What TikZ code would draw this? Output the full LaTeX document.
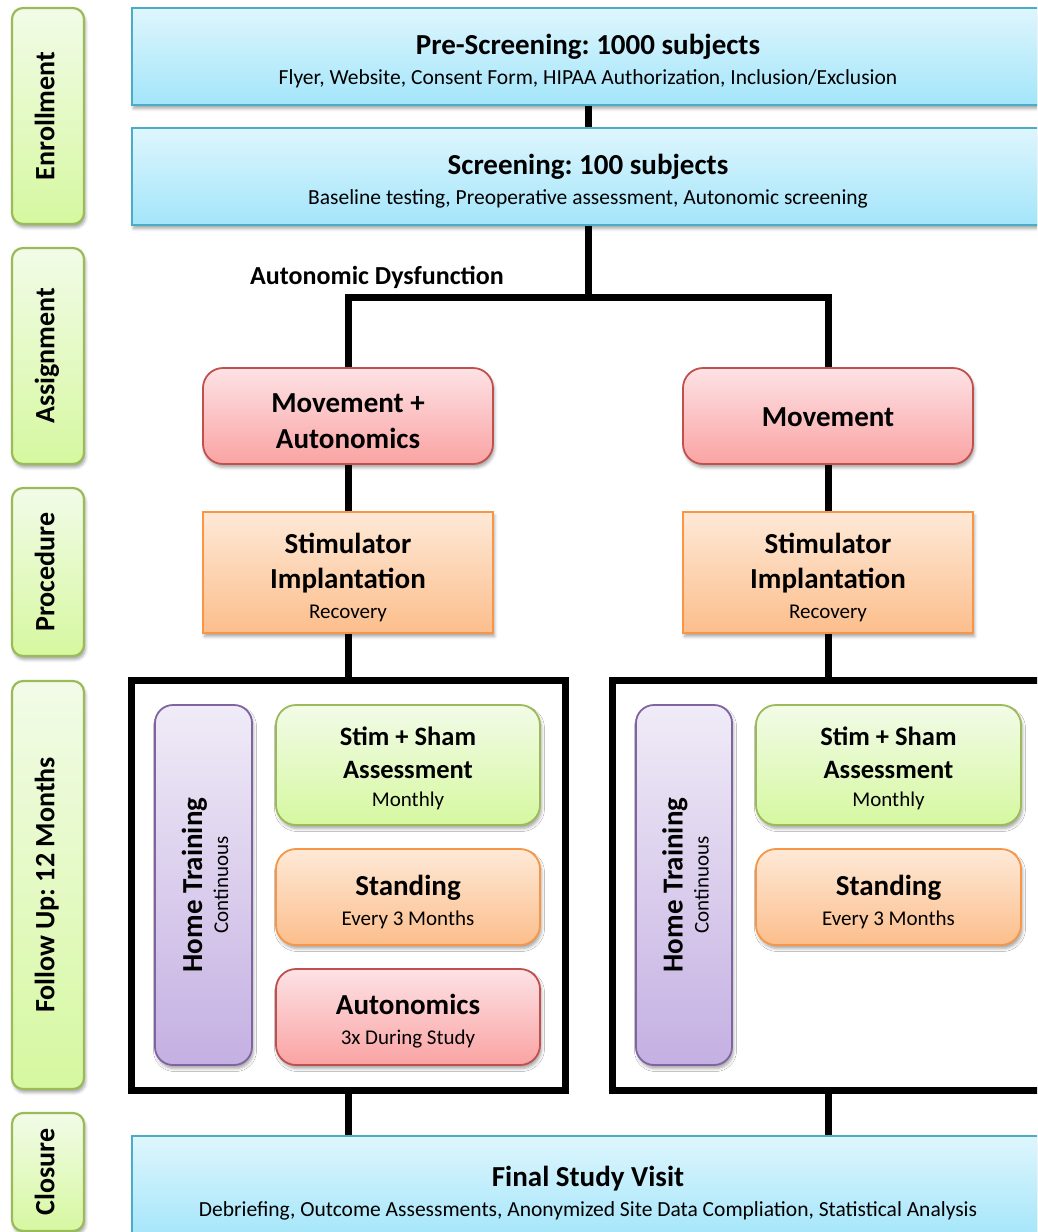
\documentclass[tikz,border=0pt]{standalone}
\usepackage{fontspec}
\setmainfont{Carlito}
\usepackage{graphicx}
\usetikzlibrary{backgrounds,shadows.blur}
\frenchspacing

\definecolor{blueTop}{RGB}{222,246,253}
\definecolor{blueBot}{RGB}{163,229,250}
\definecolor{blueBd}{RGB}{75,172,198}
\definecolor{redTop}{RGB}{253,226,229}
\definecolor{redBot}{RGB}{250,163,163}
\definecolor{redBd}{RGB}{192,80,77}
\definecolor{orTop}{RGB}{254,233,215}
\definecolor{orBot}{RGB}{252,190,140}
\definecolor{orBd}{RGB}{247,150,70}
\definecolor{grTop}{RGB}{242,251,232}
\definecolor{grBot}{RGB}{214,248,160}
\definecolor{grBd}{RGB}{155,187,89}
\definecolor{puTop}{RGB}{240,235,247}
\definecolor{puBot}{RGB}{196,176,226}
\definecolor{puBd}{RGB}{128,100,162}

\newcommand{\mytitle}{\fontsize{29}{35}\selectfont\bfseries}
\newcommand{\mytitlesm}{\fontsize{26.5}{32}\selectfont\bfseries}
\newcommand{\mysub}{\fontsize{21}{26}\selectfont\mdseries}
\newcommand{\mysubl}{\fontsize{21.5}{26}\selectfont\mdseries}
\newcommand{\tp}[1]{\rule{0pt}{#1}}
\newcommand{\mydeep}{\rule[-7pt]{0pt}{7pt}}

\tikzset{
  base/.style={inner sep=0pt, outer sep=0pt, align=center, line width=1.8pt, text=black,
    blur shadow={shadow xshift=1.5pt, shadow yshift=-3.5pt, shadow blur radius=3pt, shadow opacity=35}},
  lab/.style={base, draw=grBd, line width=2.2pt, top color=grTop, bottom color=grBot,
    rounded corners=11pt, minimum width=72pt, font=\fontsize{28}{34}\selectfont\bfseries},
  bluebox/.style={base, draw=blueBd, top color=blueTop, bottom color=blueBot,
    minimum width=912pt, font=\fontsize{21}{30}\selectfont},
  redbox/.style={base, draw=redBd, top color=redTop, bottom color=redBot,
    rounded corners=20pt, font=\fontsize{29}{36}\selectfont\bfseries},
  orbox/.style={base, draw=orBd, top color=orTop, bottom color=orBot,
    font=\fontsize{21}{30}\selectfont},
  orround/.style={orbox, rounded corners=20pt},
  grbox/.style={base, draw=grBd, top color=grTop, bottom color=grBot,
    rounded corners=20pt, font=\fontsize{21}{28}\selectfont},
  pubox/.style={base, draw=puBd, top color=puTop, bottom color=puBot,
    rounded corners=18pt, font=\fontsize{21}{26}\selectfont},
  bigbox/.style={draw=black, line width=7pt, fill=white, inner sep=0pt, outer sep=0pt},
  conn/.style={draw=black, line width=7pt}
}

\begin{document}
\begin{tikzpicture}[x=1pt,y=-1pt]
\useasboundingbox (0,0) rectangle (1037,1232);
\clip (0,0) rectangle (1037,1232);

% phase labels
\node[lab, minimum height=216pt] (enr) at (48,116) {\rotatebox{90}{\mydeep Enrollment}};
\node[lab, minimum height=216pt] (asg) at (48,356) {\rotatebox{90}{\mydeep Assignment}};
\node[lab, minimum height=168pt] (prc) at (48,572) {\rotatebox{90}{\mydeep Procedure}};
\node[lab, minimum height=408pt] (fol) at (48,885) {\rotatebox{90}{\mydeep Follow Up: 12 Months}};
\node[lab, minimum height=118pt] (clo) at (48,1172) {\rotatebox{90}{\mydeep Closure}};

% enrollment
\node[bluebox, minimum height=97pt] (pre) at (588,56.5)
  {{\tp{30pt}\mytitle Pre-Screening: 1000 subjects}\\{\mysubl Flyer, Website, Consent Form, HIPAA Authorization, Inclusion/Exclusion}};
\node[bluebox, minimum height=97pt] (scr) at (588,176.5)
  {{\tp{30pt}\mytitle Screening: 100 subjects}\\{\mysubl Baseline testing, Preoperative assessment, Autonomic screening}};

\node[font=\fontsize{26}{30}\selectfont\bfseries, inner sep=0pt] (ad) at (377,277) {Autonomic Dysfunction};
\coordinate (j) at (588,297);

% assignment
\node[redbox, minimum width=290pt, minimum height=96pt] (ma) at (348,416) {\tp{30pt}Movement +\\Autonomics};
\node[redbox, minimum width=290pt, minimum height=96pt] (mo) at (828,416) {\tp{22pt}Movement};

% procedure
\node[orbox, minimum width=290pt, minimum height=121pt] (st1) at (348,572.5)
  {{\tp{31pt}\mytitle Stimulator}\\[5pt]{\mytitle Implantation}\\{\mysub Recovery}};
\node[orbox, minimum width=290pt, minimum height=121pt] (st2) at (828,572.5)
  {{\tp{31pt}\mytitle Stimulator}\\[5pt]{\mytitle Implantation}\\{\mysub Recovery}};

% follow up frames
\node[bigbox, minimum width=434pt, minimum height=410pt] (fa) at (348,885) {};
\node[bigbox, minimum width=432pt, minimum height=410pt] (fb) at (828,885) {};

% left arm
\node[pubox, minimum width=97pt, minimum height=360pt] (ht1) at (203.5,885)
  {\rotatebox{90}{\fontsize{21}{26}\selectfont\begin{tabular}{@{}c@{}}{\tp{31pt}\mytitle Home Training}\\{\mysub Continuous}\end{tabular}}};
\node[grbox, minimum width=264pt, minimum height=120pt] (ss1) at (408,765)
  {{\tp{26pt}\mytitlesm Stim + Sham}\\[5pt]{\mytitlesm Assessment}\\{\mysub Monthly}};
\node[orround, minimum width=264pt, minimum height=96pt] (sd1) at (408,897)
  {{\tp{30pt}\mytitle Standing}\\{\mysub Every 3 Months}};
\node[redbox, minimum width=264pt, minimum height=96pt, font=\fontsize{21}{30}\selectfont] (au1) at (408,1017)
  {{\tp{28pt}\mytitle Autonomics}\\{\mysub 3x During Study}};

% right arm
\node[pubox, minimum width=96pt, minimum height=360pt] (ht2) at (684,885)
  {\rotatebox{90}{\fontsize{21}{26}\selectfont\begin{tabular}{@{}c@{}}{\tp{31pt}\mytitle Home Training}\\{\mysub Continuous}\end{tabular}}};
\node[grbox, minimum width=265pt, minimum height=120pt] (ss2) at (888.5,765)
  {{\tp{26pt}\mytitlesm Stim + Sham}\\[5pt]{\mytitlesm Assessment}\\{\mysub Monthly}};
\node[orround, minimum width=265pt, minimum height=96pt] (sd2) at (888.5,897)
  {{\tp{30pt}\mytitle Standing}\\{\mysub Every 3 Months}};

% closure
\node[bluebox, minimum height=104pt] (fin) at (588,1188)
  {{\tp{30pt}\mytitle Final Study Visit}\\{\mysubl Debriefing, Outcome Assessments, Anonymized Site Data Compliation, Statistical Analysis}};

% connectors
\begin{scope}[on background layer]
\draw[conn] (pre.south) -- (scr.north);
\draw[conn] (scr.south) -- (j);
\draw[conn, line join=miter] (ma.north) -- (ma.north |- j) -- (mo.north |- j) -- (mo.north);
\draw[conn] (ma) -- (st1);
\draw[conn] (mo) -- (st2);
\draw[conn] (st1) -- (fa);
\draw[conn] (st2) -- (fb);
\draw[conn] (fa.south) -- (fa.south |- fin.north);
\draw[conn] (fb.south) -- (fb.south |- fin.north);
\end{scope}
\end{tikzpicture}
\end{document}
